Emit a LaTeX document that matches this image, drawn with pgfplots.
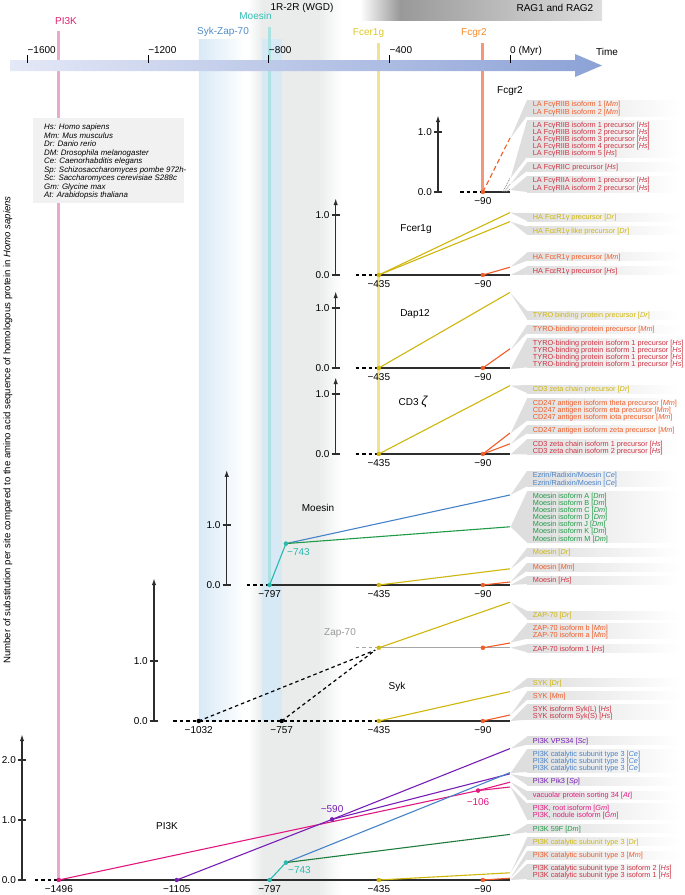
\documentclass[border=0pt]{standalone}
\usepackage{pgfplots}
\pgfplotsset{compat=1.18}
\usepackage{fontspec}
\setmainfont{Liberation Sans}
\usetikzlibrary{arrows.meta}

\definecolor{hs}{RGB}{206,50,66}
\definecolor{mm}{RGB}{240,92,40}
\definecolor{dr}{RGB}{207,182,10}
\definecolor{dm}{RGB}{30,155,70}
\definecolor{dmd}{RGB}{30,125,60}
\definecolor{ce}{RGB}{70,130,200}
\definecolor{sp}{RGB}{120,30,180}
\definecolor{gm}{RGB}{226,24,128}
\definecolor{cy}{RGB}{40,185,175}
\definecolor{wgd}{RGB}{234,236,236}
\definecolor{sykb}{RGB}{216,233,246}
\definecolor{wedge}{RGB}{222,222,222}
\definecolor{legbg}{RGB}{241,241,241}
\definecolor{axc}{RGB}{45,45,45}

\newcommand{\lbl}{\fontsize{7.3}{8}\selectfont}
\newcommand{\tk}{\fontsize{10}{12}\selectfont}
% right-hand labels and their grey wedges (frame axis, y in px from top)
\newcommand{\lab}[3]{\node[anchor=base west,inner sep=0,yshift=-2.7pt,text=#1,font=\lbl] at (axis cs:75.3,#2) {#3};}
\newcommand{\grp}[3]{\fill[wedge] (axis cs:2,#1) -- (axis cs:56.4,#2) -- (axis cs:56.4,#3) -- cycle;
  \shade[left color=wedge,right color=white] (axis cs:56.4,#2) rectangle (axis cs:563,#3);}
\newcommand{\ttick}[2]{\draw[line width=0.9pt] (axis cs:#1,55) -- (axis cs:#1,63);
  \node[anchor=base west,inner sep=0,font=\tk] at (axis cs:#1,53) {#2};}
\newcommand{\leg}[2]{\node[anchor=base west,inner sep=0,yshift=-2.8pt,font=\fontsize{7.9}{9}\selectfont\itshape] at (axis cs:-1545.1,#1) {#2};}
% panel helpers
\newcommand{\yaxis}[2]{\draw[axc,line width=1.3pt,-{Latex[length=7pt,width=4.5pt]}] (axis cs:#1,0) -- (axis cs:#1,#2);}
\newcommand{\ytk}[3]{\draw[axc,line width=1.3pt] ([xshift=-4pt]axis cs:#1,#2) -- ([xshift=4pt]axis cs:#1,#2);
  \node[anchor=east,inner sep=0,font=\tk] at ([xshift=-6pt]axis cs:#1,#2) {#3};}
\newcommand{\xl}[2]{\node[anchor=north,inner sep=0,font=\tk,yshift=-5.5pt] at (axis cs:#1,0) {−#2};}
\newcommand{\dt}[3]{\addplot[only marks,mark=*,mark size=2pt,color=#1] coordinates {(#2,#3)};}

\pgfplotsset{
  panel/.style={x=0.3016pt,y=60pt,xmin=-1691,xmax=580.2,ymin=-0.5,ymax=2.5,
    axis lines=none,clip=false,anchor=south west},
  dl/.style={line width=1.1pt},
  base/.style={axc,line width=1.3pt},
  dbase/.style={black,line width=1.2pt,dash pattern=on 3.5pt off 3pt},
}

\begin{document}
\begin{tikzpicture}
\useasboundingbox (0,0) rectangle (685pt,895pt);

% ---------- frame: time line, bands, labels ----------
\begin{axis}[x=0.3016pt,y=1pt,xmin=-1691,xmax=580.2,ymin=0,ymax=895,y dir=reverse,
  axis lines=none,clip=false,anchor=south west,at={(0pt,0pt)}]
% 1R-2R band
\shade[left color=white,right color=wgd] (axis cs:-868.7,0) rectangle (axis cs:-822.3,895);
\fill[wgd] (axis cs:-822.3,0) rectangle (axis cs:-636.6,895);
\shade[left color=wgd,right color=white] (axis cs:-636.6,0) rectangle (axis cs:-557,895);
% Syk-Zap-70 band
\shade[left color=sykb,right color=white] (axis cs:-1032,39) rectangle (axis cs:-880,721);
\fill[sykb] (axis cs:-822,39) rectangle (axis cs:-757,721);
% RAG1 and RAG2
\shade[left color=white,right color=black!40] (axis cs:-497,0) rectangle (axis cs:-364.7,20);
\shade[left color=black!40,right color=black!13] (axis cs:-364.7,0) rectangle (axis cs:305,20);
\node[font=\tk] at (axis cs:149,8) {RAG1 and RAG2};
\node[font=\tk] at (axis cs:-689.7,8) {1R-2R (WGD)};
% vertical gene lines
\draw[line width=3pt,color={rgb,255:red,232;green,170;blue,202}] (axis cs:-1496,31) -- (axis cs:-1496,880);
\draw[line width=3pt,color={rgb,255:red,172;green,226;blue,226}] (axis cs:-797,27) -- (axis cs:-797,585);
\draw[line width=3pt,color={rgb,255:red,241;green,226;blue,140}] (axis cs:-435,43) -- (axis cs:-435,454);
\draw[line width=3pt,color={rgb,255:red,246;green,150;blue,120}] (axis cs:-90,43) -- (axis cs:-90,192);
\node[font=\tk,text={rgb,255:red,226;green,30;blue,110}] at (axis cs:-1472,21) {PI3K};
\node[font=\tk,text={rgb,255:red,80;green,140;blue,200}] at (axis cs:-951.6,32) {Syk-Zap-70};
\node[font=\tk,text={rgb,255:red,50;green,190;blue,180}] at (axis cs:-843.8,16) {Moesin};
\node[font=\tk,text={rgb,255:red,222;green,200;blue,40}] at (axis cs:-469,33) {Fcer1g};
\node[font=\tk,text={rgb,255:red,246;green,140;blue,40}] at (axis cs:-119.4,33) {Fcgr2};
% time arrow
\shade[left color={rgb,255:red,228;green,232;blue,247},right color={rgb,255:red,140;green,162;blue,214}]
  (axis cs:-1657.8,60) -- (axis cs:215.5,60) -- (axis cs:215.5,54) -- (axis cs:305,65.5)
  -- (axis cs:215.5,77) -- (axis cs:215.5,71) -- (axis cs:-1657.8,71) -- cycle;
\ttick{-1600}{−1600}\ttick{-1200}{−1200}\ttick{-800}{−800}\ttick{-400}{−400}\ttick{0}{0 (Myr)}
\node[anchor=base,font=\tk] at (axis cs:321.6,55) {Time};
% legend
\fill[legbg] (axis cs:-1581.6,118) rectangle (axis cs:-1080.9,203);
\leg{127}{Hs: Homo sapiens}
\leg{135.5}{Mm: Mus musculus}
\leg{144}{Dr: Danio rerio}
\leg{152.5}{DM: Drosophila melanogaster}
\leg{161}{Ce: Caenorhabditis elegans}
\leg{169.5}{Sp: Schizosaccharomyces pombe 972h-}
\leg{178}{Sc: Saccharomyces cerevisiae S288c}
\leg{186.5}{Gm: Glycine max}
\leg{195}{At: Arabidopsis thaliana}
% y label
\node[rotate=90,font=\fontsize{9.6}{11}\selectfont] at (axis cs:-1664.5,430)
  {Number of substitution per site compared to the amino acid sequence of homologous protein in \textit{Homo sapiens}};
% wedges
\grp{138}{100}{116}\grp{178}{120.5}{157}\grp{184}{162.5}{171}\grp{190}{176}{192}
\grp{212.7}{213}{221}\grp{221.7}{226.7}{234.7}\grp{267}{252.7}{260.7}\grp{275}{266.7}{274.7}
\grp{293.3}{311}{319}\grp{350}{325}{333}\grp{369}{338.3}{367.3}
\grp{385.7}{385}{393}\grp{433.3}{398.7}{420.7}\grp{444}{425.3}{433.3}\grp{454.3}{439.3}{454.3}
\grp{495}{471}{486.3}\grp{526.7}{491.7}{542.7}\grp{569}{548}{556}\grp{582}{563}{571}\grp{585}{576}{584}
\grp{602.3}{611}{619}\grp{642.7}{623.3}{638.7}\grp{647.7}{644.3}{652.3}
\grp{691.7}{678.3}{686.3}\grp{715}{691.7}{699.7}\grp{721}{704.3}{719.7}
\grp{748.7}{736.7}{744.7}\grp{773}{749.3}{772}\grp{774}{777}{785}\grp{782}{791}{799}
\grp{787}{803.7}{819}\grp{834.3}{824.3}{832.3}\grp{872.7}{837.7}{845.7}\grp{878}{851}{859}\grp{880}{864}{879}
% labels
\lab{mm}{104}{LA FcγRIIB isoform 1 [\textit{Mm}]}
\lab{mm}{111.5}{LA FcγRIIB isoform 2 [\textit{Mm}]}
\lab{hs}{124.7}{LA FcγRIIB isoform 1 precursor [\textit{Hs}]}
\lab{hs}{131.8}{LA FcγRIIB isoform 2 precursor [\textit{Hs}]}
\lab{hs}{138.9}{LA FcγRIIB isoform 3 precursor [\textit{Hs}]}
\lab{hs}{146}{LA FcγRIIB isoform 4 precursor [\textit{Hs}]}
\lab{hs}{153}{LA FcγRIIB isoform 5 [\textit{Hs}]}
\lab{hs}{166.7}{LA FcγRIIC precursor [\textit{Hs}]}
\lab{hs}{180}{LA FcγRIIA isoform 1 precursor [\textit{Hs}]}
\lab{hs}{187.7}{LA FcγRIIA isoform 2 precursor [\textit{Hs}]}
\lab{dr}{217}{HA FcεR1γ precursor [\textit{Dr}]}
\lab{dr}{230.7}{HA FcεR1γ like precursor [\textit{Dr}]}
\lab{mm}{256.7}{HA FcεR1γ precursor [\textit{Mm}]}
\lab{hs}{270.7}{HA FcεR1γ precursor [\textit{Hs}]}
\lab{dr}{315}{TYRO binding protein precursor [\textit{Dr}]}
\lab{mm}{329}{TYRO-binding protein precursor [\textit{Mm}]}
\lab{hs}{342.3}{TYRO-binding protein isoform 1 precursor [\textit{Hs}]}
\lab{hs}{349.3}{TYRO-binding protein isoform 1 precursor [\textit{Hs}]}
\lab{hs}{356.3}{TYRO-binding protein isoform 1 precursor [\textit{Hs}]}
\lab{hs}{363.3}{TYRO-binding protein isoform 1 precursor [\textit{Hs}]}
\lab{dr}{389}{CD3 zeta chain precursor [\textit{Dr}]}
\lab{mm}{402.7}{CD247 antigen isoform theta precursor [\textit{Mm}]}
\lab{mm}{409.7}{CD247 antigen isoform eta precursor [\textit{Mm}]}
\lab{mm}{416.7}{CD247 antigen isoform iota precursor [\textit{Mm}]}
\lab{mm}{429.3}{CD247 antigen isoform zeta precursor [\textit{Mm}]}
\lab{hs}{443.3}{CD3 zeta chain isoform 1 precursor [\textit{Hs}]}
\lab{hs}{450.3}{CD3 zeta chain isoform 2 precursor [\textit{Hs}]}
\lab{ce}{475}{Ezrin/Radixin/Moesin [\textit{Ce}]}
\lab{ce}{482.3}{Ezrin/Radixin/Moesin [\textit{Ce}]}
\lab{dm}{495.7}{Moesin isoform A [\textit{Dm}]}
\lab{dm}{502.8}{Moesin isoform B [\textit{Dm}]}
\lab{dm}{509.9}{Moesin isoform C [\textit{Dm}]}
\lab{dm}{517}{Moesin isoform D [\textit{Dm}]}
\lab{dm}{524.1}{Moesin isoform J [\textit{Dm}]}
\lab{dm}{531.2}{Moesin isoform K [\textit{Dm}]}
\lab{dm}{538.3}{Moesin isoform M [\textit{Dm}]}
\lab{dr}{552}{Moesin [\textit{Dr}]}
\lab{mm}{567}{Moesin [\textit{Mm}]}
\lab{hs}{580}{Moesin [\textit{Hs}]}
\lab{dr}{615}{ZAP-70 [\textit{Dr}]}
\lab{mm}{627.3}{ZAP-70 isoform b [\textit{Mm}]}
\lab{mm}{634.7}{ZAP-70 isoform a [\textit{Mm}]}
\lab{hs}{648.3}{ZAP-70 isoform 1 [\textit{Hs}]}
\lab{dr}{682.3}{SYK [\textit{Dr}]}
\lab{mm}{695.7}{SYK [\textit{Mm}]}
\lab{hs}{708.3}{SYK isoform Syk(L) [\textit{Hs}]}
\lab{hs}{715.7}{SYK isoform Syk(S) [\textit{Hs}]}
\lab{sp}{740.7}{PI3K VPS34 [\textit{Sc}]}
\lab{ce}{753.3}{PI3K catalytic subunit type 3 [\textit{Ce}]}
\lab{ce}{760.7}{PI3K catalytic subunit type 3 [\textit{Ce}]}
\lab{ce}{768}{PI3K catalytic subunit type 3 [\textit{Ce}]}
\lab{sp}{781}{PI3K Pik3 [\textit{Sp}]}
\lab{gm}{795}{vacuolar protein sorting 34 [\textit{At}]}
\lab{gm}{807.7}{PI3K, root isoform [\textit{Gm}]}
\lab{gm}{815}{PI3K, nodule isoform [\textit{Gm}]}
\lab{dm}{828.3}{PI3K 59F [\textit{Dm}]}
\lab{dr}{841.7}{PI3K catalytic subunit type 3 [\textit{Dr}]}
\lab{mm}{855}{PI3K catalytic subunit type 3 [\textit{Mm}]}
\lab{hs}{868}{PI3K catalytic subunit type 3 isoform 2 [\textit{Hs}]}
\lab{hs}{875}{PI3K catalytic subunit type 3 isoform 1 [\textit{Hs}]}
\end{axis}

% ---------- Fcgr2 ----------
\begin{axis}[panel,at={(0pt,673pt)}]
\yaxis{-238.7}{1.28}\ytk{-238.7}{0}{0.0}\ytk{-238.7}{1}{1.0}
\addplot[dbase] coordinates {(-165.8,0) (-90,0)};
\addplot[base] coordinates {(-90,0) (0,0)};
\addplot[dl,mm,dash pattern=on 5pt off 3pt] coordinates {(-90,0) (0,0.90)};
\addplot[gray,line width=0.8pt,densely dotted] coordinates {(-24,0) (0,0.23)};
\addplot[gray,line width=0.8pt,densely dotted] coordinates {(-18,0) (0,0.13)};
\addplot[gray,line width=0.8pt,densely dotted] coordinates {(-12,0) (0,0.05)};
\dt{mm}{-90}{0}
\xl{-90}{90}
\node[font=\tk] at (axis cs:0,1.68) {Fcgr2};
\end{axis}

% ---------- Fcer1g ----------
\begin{axis}[panel,at={(0pt,590pt)}]
\yaxis{-578}{1.28}\ytk{-578}{0}{0.0}\ytk{-578}{1}{1.0}
\addplot[dbase] coordinates {(-511.6,0) (-435,0)};
\addplot[base] coordinates {(-435,0) (0,0)};
\addplot[dl,dr] coordinates {(-435,0) (0,1.04)};
\addplot[dl,dr] coordinates {(-435,0) (0,0.89)};
\addplot[dl,mm] coordinates {(-90,0) (0,0.13)};
\dt{dr}{-435}{0}\dt{mm}{-90}{0}
\xl{-435}{435}\xl{-90}{90}
\node[font=\tk] at (axis cs:-311.7,0.77) {Fcer1g};
\end{axis}

% ---------- Dap12 ----------
\begin{axis}[panel,at={(0pt,497pt)}]
\yaxis{-578}{1.28}\ytk{-578}{0}{0.0}\ytk{-578}{1}{1.0}
\addplot[dbase] coordinates {(-511.6,0) (-435,0)};
\addplot[base] coordinates {(-435,0) (0,0)};
\addplot[dl,dr] coordinates {(-435,0) (0,1.26)};
\addplot[dl,mm] coordinates {(-90,0) (0,0.32)};
\dt{dr}{-435}{0}\dt{mm}{-90}{0}
\xl{-435}{435}\xl{-90}{90}
\node[font=\tk] at (axis cs:-315,0.9) {Dap12};
\end{axis}

% ---------- CD3 zeta ----------
\begin{axis}[panel,at={(0pt,411pt)}]
\yaxis{-578}{1.28}\ytk{-578}{0}{0.0}\ytk{-578}{1}{1.0}
\addplot[dbase] coordinates {(-511.6,0) (-435,0)};
\addplot[base] coordinates {(-435,0) (0,0)};
\addplot[dl,dr] coordinates {(-435,0) (0,1.14)};
\addplot[dl,mm] coordinates {(-90,0) (0,0.35)};
\addplot[dl,mm] coordinates {(-90,0) (0,0.17)};
\dt{dr}{-435}{0}\dt{mm}{-90}{0}
\xl{-435}{435}\xl{-90}{90}
\node[font=\tk] at (axis cs:-321.6,0.87) {CD3 \fontsize{13}{14}\selectfont\itshape ζ};
\end{axis}

% ---------- Moesin ----------
\begin{axis}[panel,at={(0pt,280pt)}]
\yaxis{-939.3}{1.92}\ytk{-939.3}{0}{0.0}\ytk{-939.3}{1}{1.0}
\addplot[dbase] coordinates {(-873,0) (-797,0)};
\addplot[base] coordinates {(-797,0) (0,0)};
\addplot[dl,cy] coordinates {(-797,0) (-743,0.69)};
\addplot[dl,ce] coordinates {(-743,0.69) (0,1.5)};
\addplot[dl,dm] coordinates {(-743,0.69) (0,0.97)};
\addplot[dl,dr] coordinates {(-435,0) (0,0.27)};
\addplot[dl,mm] coordinates {(-90,0) (0,0.05)};
\dt{cy}{-797}{0}\dt{cy}{-743}{0.69}\dt{dr}{-435}{0}\dt{mm}{-90}{0}
\xl{-797}{797}\xl{-435}{435}\xl{-90}{90}
\node[anchor=west,inner sep=0,font=\tk,text=cy] at (axis cs:-739.4,0.55) {−743};
\node[font=\tk] at (axis cs:-636.6,1.28) {Moesin};
\end{axis}

% ---------- Syk / Zap-70 ----------
\begin{axis}[panel,at={(0pt,144pt)}]
\yaxis{-1180.4}{2.38}\ytk{-1180.4}{0}{0.0}\ytk{-1180.4}{1}{1.0}
\addplot[dbase] coordinates {(-1117.4,0) (-435,0)};
\addplot[base] coordinates {(-435,0) (0,0)};
\addplot[dbase] coordinates {(-1032,0) (-447,1.18)};
\addplot[dbase] coordinates {(-757,0) (-447,1.18)};
\addplot[black!35,line width=1.2pt,dash pattern=on 3.5pt off 3pt] coordinates {(-511.6,1.22) (-435,1.22)};
\addplot[black!35,line width=1.2pt] coordinates {(-435,1.22) (0,1.22)};
\addplot[dl,dr] coordinates {(-435,1.22) (0,1.98)};
\addplot[dl,mm] coordinates {(-90,1.22) (0,1.30)};
\addplot[dl,dr] coordinates {(-435,0) (0,0.49)};
\addplot[dl,mm] coordinates {(-90,0) (0,0.10)};
\dt{black}{-1032}{0}\dt{black}{-757}{0}
\dt{dr}{-435}{0}\dt{mm}{-90}{0}\dt{dr}{-435}{1.22}\dt{mm}{-90}{1.22}
\xl{-1032}{1032}\xl{-757}{757}\xl{-435}{435}\xl{-90}{90}
\node[font=\tk,text=black!40] at (axis cs:-563.7,1.47) {Zap-70};
\node[font=\tk] at (axis cs:-374.7,0.57) {Syk};
\end{axis}

% ---------- PI3K ----------
\begin{axis}[panel,at={(0pt,-15pt)}]
\yaxis{-1618}{2.43}\ytk{-1618}{0}{0.0}\ytk{-1618}{1}{1.0}\ytk{-1618}{2}{2.0}
\addplot[dbase] coordinates {(-1575,0) (-1496,0)};
\addplot[base] coordinates {(-1496,0) (0,0)};
\addplot[dl,gm] coordinates {(-1496,0) (-106,1.49)};
\addplot[dl,gm] coordinates {(-106,1.49) (0,1.63)};
\addplot[dl,gm] coordinates {(-106,1.49) (0,1.55)};
\addplot[dl,sp] coordinates {(-1105,0) (-590,1.01)};
\addplot[dl,sp] coordinates {(-590,1.01) (0,2.19)};
\addplot[dl,sp] coordinates {(-590,1.01) (0,1.77)};
\addplot[dl,cy] coordinates {(-797,0) (-743,0.29)};
\addplot[dl,ce] coordinates {(-743,0.29) (0,1.79)};
\addplot[dl,dmd] coordinates {(-743,0.29) (0,0.76)};
\addplot[dl,dr] coordinates {(-435,0) (0,0.12)};
\addplot[dl,mm] coordinates {(-90,0) (0,0.03)};
\dt{gm}{-1496}{0}\dt{sp}{-1105}{0}\dt{cy}{-797}{0}\dt{cy}{-743}{0.29}
\dt{sp}{-590}{1.01}\dt{gm}{-106}{1.49}\dt{dr}{-435}{0}\dt{mm}{-90}{0}
\xl{-1496}{1496}\xl{-1105}{1105}\xl{-797}{797}\xl{-435}{435}\xl{-90}{90}
\node[anchor=south,font=\tk,text=sp] at (axis cs:-590,1.06) {−590};
\node[anchor=north,font=\tk,text=gm] at (axis cs:-106,1.42) {−106};
\node[anchor=west,inner sep=0,font=\tk,text=cy] at (axis cs:-736,0.17) {−743};
\node[font=\tk] at (axis cs:-1137.3,0.905) {PI3K};
\end{axis}
\end{tikzpicture}
\end{document}
